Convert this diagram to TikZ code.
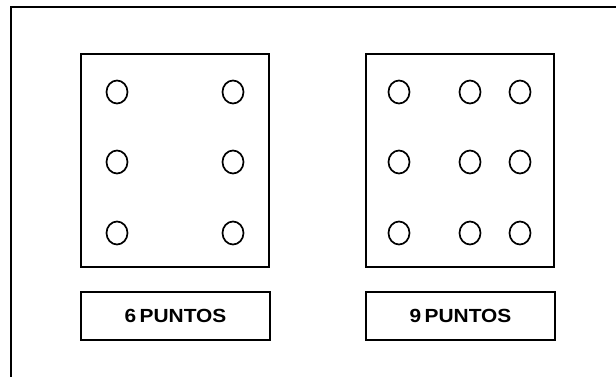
\documentclass[tikz,border=0pt]{standalone}
\usepackage{graphicx}
\usepackage{fontspec}
\setmainfont{Liberation Sans}
\usetikzlibrary{shapes.geometric}
\begin{document}
\begin{tikzpicture}[x=1pt,y=-1pt,line width=2pt,
  panel/.style={draw,rectangle,inner sep=0pt,minimum width=188pt,minimum height=213pt},
  tag/.style={draw,rectangle,inner sep=0pt,minimum width=189pt,minimum height=48pt,
    font=\fontsize{19}{21}\selectfont\bfseries},
  hole/.style={draw,ellipse,inner sep=0pt,line width=1.7pt,minimum width=21pt,minimum height=23pt}]
\useasboundingbox (0,0) rectangle (616,377);
\coordinate (fa) at (616,7);
\coordinate (fb) at (11,7);
\coordinate (fc) at (11,377);
\draw (fa) -- (fb) -- (fc);
% panels
\node[panel] (p6) at (175,160.5) {};
\node[panel] (p9) at (459.5,160.5) {};
% labels
\node[tag] (t6) at (175.5,316) {\scalebox{1.1}[1]{6\,PUNTOS}};
\node[tag] (t9) at (460.5,316) {\scalebox{1.1}[1]{9\,PUNTOS}};
% holes
\foreach \r/\y in {1/92,2/162,3/233}{
  \node[hole] (a\r1) at (117,\y) {};
  \node[hole] (a\r2) at (233,\y) {};
  \node[hole] (b\r1) at (399,\y) {};
  \node[hole] (b\r2) at (470,\y) {};
  \node[hole] (b\r3) at (520,\y) {};
}
\end{tikzpicture}
\end{document}
